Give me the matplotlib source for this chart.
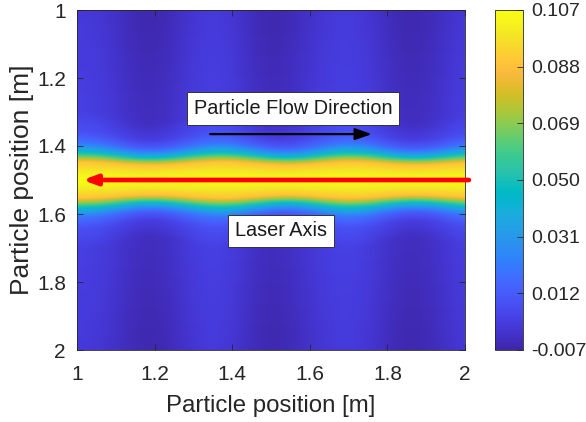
import numpy as np
import matplotlib
matplotlib.use('Agg')
import matplotlib.pyplot as plt
from matplotlib.colors import LinearSegmentedColormap

# background stripe level and band width scale, read every 0.05 m along x
x_cols = [1.00, 1.05, 1.10, 1.15, 1.20, 1.25, 1.30, 1.35, 1.40, 1.45, 1.50,
          1.55, 1.60, 1.65, 1.70, 1.75, 1.80, 1.85, 1.90, 1.95, 2.00]
stripe_level = [0.0010, 0.0005, -0.0020, -0.0050, -0.0058, -0.0035, 0.0000,
                0.0015, 0.0000, -0.0040, -0.0060, -0.0045, -0.0015, 0.0008,
                0.0015, 0.0000, -0.0035, -0.0058, -0.0050, -0.0020, 0.0008]
band_scale = [1.10, 1.08, 1.00, 0.92, 0.90, 0.94, 1.02, 1.09, 1.09, 1.02, 0.94,
              0.90, 0.95, 1.04, 1.10, 1.06, 0.97, 0.91, 0.91, 0.97, 1.04]

# laser band profile across y: offset from the axis [m] and fraction of peak
band_offset = [0.0, 0.028, 0.049, 0.060, 0.071, 0.083, 0.102, 0.130, 0.185, 0.5]
band_fraction = [1.0, 0.92, 0.83, 0.66, 0.49, 0.33, 0.16, 0.07, 0.02, 0.0]
band_peak = 0.107
laser_y = 1.5

cbar_ticks = [-0.007, 0.012, 0.031, 0.050, 0.069, 0.088, 0.107]
cbar_labels = ['-0.007', '0.012', '0.031', '0.050', '0.069', '0.088', '0.107']
axis_ticks = [1, 1.2, 1.4, 1.6, 1.8, 2]
axis_labels = ['1', '1.2', '1.4', '1.6', '1.8', '2']

# annotation arrows (data coords)
flow_arrow = ((1.343, 1.365), (1.76, 1.365))
laser_arrow = ((2.01, 1.5), (1.015, 1.5))

# MATLAB parula (R2014b), subsampled
parula = [
    (0.2422, 0.1504, 0.6603), (0.2578, 0.1818, 0.7511), (0.2706, 0.2147, 0.8364),
    (0.2783, 0.2559, 0.8991), (0.2813, 0.3006, 0.9414), (0.2795, 0.3447, 0.9717),
    (0.2699, 0.3892, 0.9906), (0.2440, 0.4358, 0.9988), (0.1963, 0.4847, 0.9892),
    (0.1786, 0.5289, 0.9682), (0.1687, 0.5703, 0.9359), (0.1460, 0.6091, 0.9079),
    (0.1248, 0.6459, 0.8883), (0.0952, 0.6798, 0.8598), (0.0297, 0.7082, 0.8163),
    (0.0067, 0.7312, 0.7660), (0.0964, 0.7500, 0.7120), (0.1717, 0.7670, 0.6554),
    (0.2161, 0.7843, 0.5923), (0.2906, 0.7973, 0.5188), (0.3909, 0.8029, 0.4354),
    (0.5044, 0.7993, 0.3480), (0.6174, 0.7876, 0.2612), (0.7242, 0.7698, 0.1910),
    (0.8203, 0.7498, 0.1535), (0.9035, 0.7330, 0.1774), (0.9728, 0.7298, 0.2394),
    (0.9970, 0.7659, 0.2199), (0.9892, 0.8136, 0.1885), (0.9676, 0.8639, 0.1643),
    (0.9597, 0.9135, 0.1423), (0.9691, 0.9606, 0.1064), (0.9769, 0.9839, 0.0805),
]
cmap = LinearSegmentedColormap.from_list('parula', parula, N=256)

plt.rcParams['font.family'] = ['Liberation Sans', 'DejaVu Sans']
txt_col = '#262626'

# build field: one column per x_cols entry, fine rows in y
n_rows = 321
y_rows = np.linspace(1, 2, n_rows)
field = np.zeros((n_rows, len(x_cols)))
for j in range(len(x_cols)):
    d = np.abs(y_rows - laser_y) / band_scale[j]
    frac = np.interp(d, band_offset, band_fraction)
    field[:, j] = stripe_level[j] + (band_peak - stripe_level[j]) * frac

dx = x_cols[1] - x_cols[0]
dy = y_rows[1] - y_rows[0]

fig = plt.figure(figsize=(5.86, 4.22), dpi=100)
ax = fig.add_axes([77 / 586, 72 / 422, 388 / 586, 340 / 422])
im = ax.imshow(field, cmap=cmap, vmin=cbar_ticks[0], vmax=cbar_ticks[-1],
               extent=(x_cols[0] - dx / 2, x_cols[-1] + dx / 2, 2 + dy / 2, 1 - dy / 2),
               aspect='auto', interpolation='bicubic')
ax.set_xlim(1, 2)
ax.set_ylim(2, 1)
ax.set_xticks(axis_ticks)
ax.set_xticklabels(axis_labels)
ax.set_yticks(axis_ticks)
ax.set_yticklabels(axis_labels)
ax.tick_params(direction='in', top=True, right=True, length=4, width=0.6,
               colors=txt_col, labelsize=15)
ax.tick_params(axis='x', pad=11)
ax.tick_params(axis='y', pad=8)
for s in ax.spines.values():
    s.set_color('#262626')
    s.set_linewidth(0.6)
ax.set_xlabel('Particle position [m]', fontsize=17.3, color=txt_col, labelpad=8)
ax.set_ylabel('Particle position [m]', fontsize=19, color=txt_col, labelpad=2)

# annotations
box = dict(boxstyle='square,pad=0.35', fc='white', ec='#333333', lw=0.7)
ax.text(1.557, 1.29, 'Particle Flow Direction', fontsize=14.3, color='#1a1a1a',
        ha='center', va='center', bbox=box)
ax.text(1.526, 1.65, 'Laser Axis', fontsize=14.3, color='#1a1a1a',
        ha='center', va='center', bbox=box)
ax.annotate('', xy=flow_arrow[1], xytext=flow_arrow[0], annotation_clip=False,
            arrowprops=dict(arrowstyle='-|>,head_length=1.0,head_width=0.35',
                            color='black', lw=1.6, shrinkA=0, shrinkB=0))
ax.annotate('', xy=laser_arrow[1], xytext=laser_arrow[0], annotation_clip=False,
            arrowprops=dict(arrowstyle='-|>,head_length=0.8,head_width=0.3',
                            color='#ff0000', lw=3.4, shrinkA=0, shrinkB=0))

cax = fig.add_axes([495 / 586, 72 / 422, 28 / 586, 340 / 422])
cb = fig.colorbar(im, cax=cax, ticks=cbar_ticks)
cb.ax.set_yticklabels(cbar_labels)
cb.ax.tick_params(direction='in', length=4, width=0.6, colors=txt_col,
                  labelsize=14, pad=6)
cb.outline.set_edgecolor('#262626')
cb.outline.set_linewidth(0.6)

fig.savefig('out.png', dpi=100)
